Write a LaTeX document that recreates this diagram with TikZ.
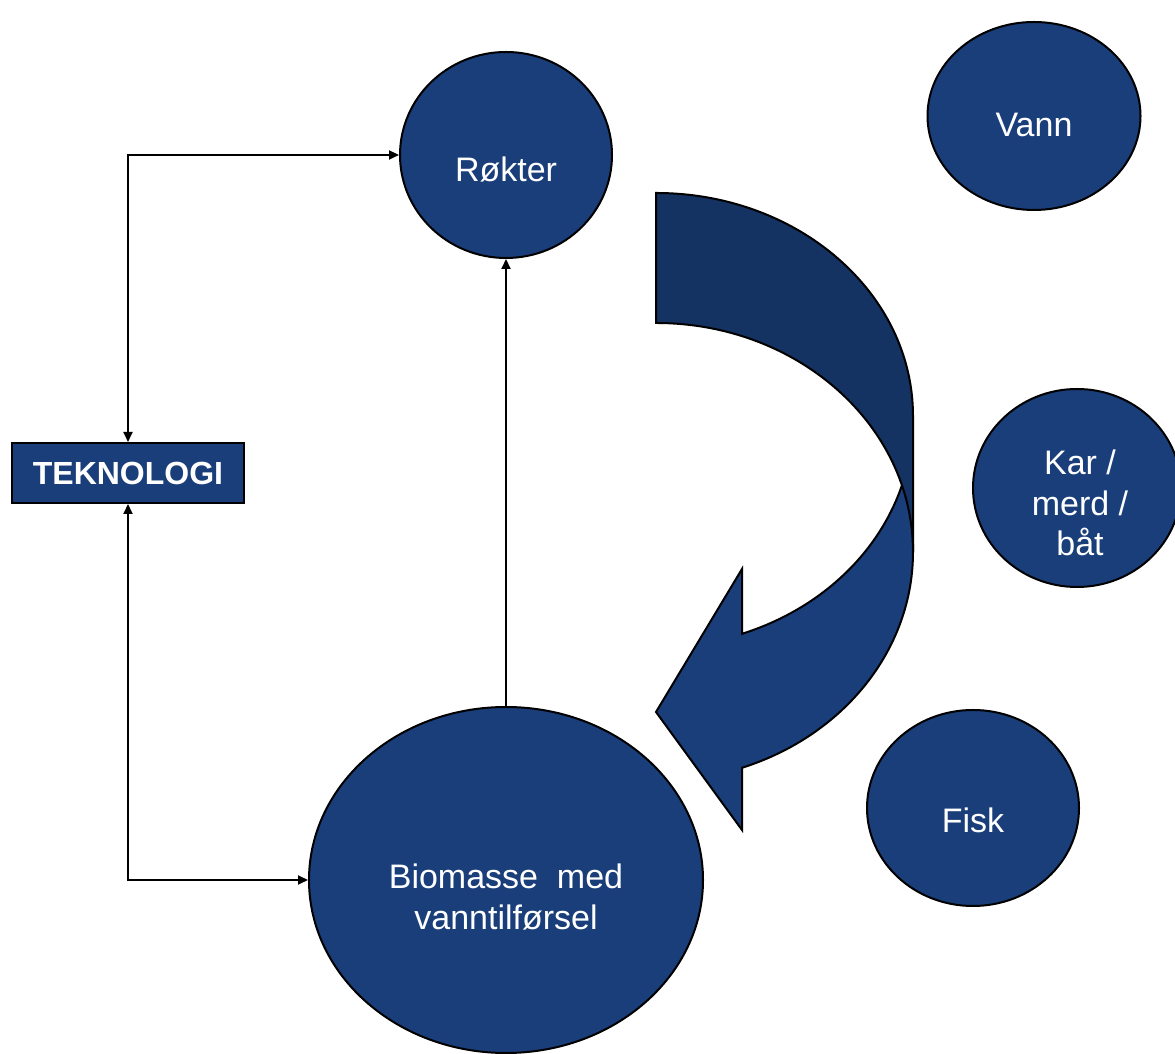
\documentclass[tikz,border=0pt]{standalone}
\usepackage{fontspec}
\setmainfont{Liberation Sans}
\usetikzlibrary{shapes.geometric,arrows.meta}
\definecolor{nodeblue}{RGB}{25,62,122}
\definecolor{darkblue}{RGB}{20,50,98}
\begin{document}
\begin{tikzpicture}[x=1pt,y=1pt,
  circ/.style={ellipse,draw=black,line width=2pt,fill=nodeblue,inner sep=0pt},
  lbl/.style={text=white,font=\fontsize{34}{40.5}\selectfont,align=center,inner sep=0pt},
  conn/.style={draw=black,line width=2pt,>={Triangle[length=10pt,width=9pt]}},
  band/.style={draw=black,line width=2pt,line join=miter}]
\useasboundingbox (0,0) rectangle (1175,1054);
\clip (0,0) rectangle (1175,1054);
% nodes
\node[circ,minimum width=212pt,minimum height=206pt] (rokter) at (506,899) {};
\node[lbl] (rokterT) at (506,884) {Røkter};
\node[circ,minimum width=213pt,minimum height=188pt] (vann) at (1034,938) {};
\node[lbl] (vannT) at (1034,929) {Vann};
\node[circ,minimum width=208pt,minimum height=198pt] (kar) at (1077,566) {};
\node[lbl] (karT) at (1080,551) {Kar /\\merd /\\båt};
\node[circ,minimum width=212pt,minimum height=196pt] (fisk) at (973,246) {};
\node[lbl] (fiskT) at (973,234) {Fisk};
\node[circ,minimum width=394pt,minimum height=346pt] (bio) at (506,174) {};
\node[lbl] (bioT) at (506,157) {Biomasse\ \ med\\vanntilførsel};
\node[draw=black,line width=2pt,fill=nodeblue,minimum width=232pt,minimum height=60pt,inner sep=0pt,text=white,font=\bfseries\fontsize{32}{38}\selectfont] (tek) at (128,581) {TEKNOLOGI};
% connectors
\draw[conn,<->] (rokter.west) -| (tek.north);
\draw[conn,<->] (bio.west) -| (tek.south);
\draw[conn,->] (bio.north) -- (rokter.south);
% curved arrow: front part
\filldraw[band,fill=nodeblue] (913,502) arc[start angle=0,end angle=-70.4,x radius=257,y radius=229]
  -- (742,224) -- (656,342) -- (742,485) -- (742,420.2)
  arc[start angle=-70.4,end angle=0,x radius=257,y radius=227] -- cycle;
% curved arrow: back part
\filldraw[band,fill=darkblue] (656,861) arc[start angle=90,end angle=0,x radius=257,y radius=223]
  -- (913,502) arc[start angle=0,end angle=90,x radius=257,y radius=229] -- cycle;
\end{tikzpicture}
\end{document}
